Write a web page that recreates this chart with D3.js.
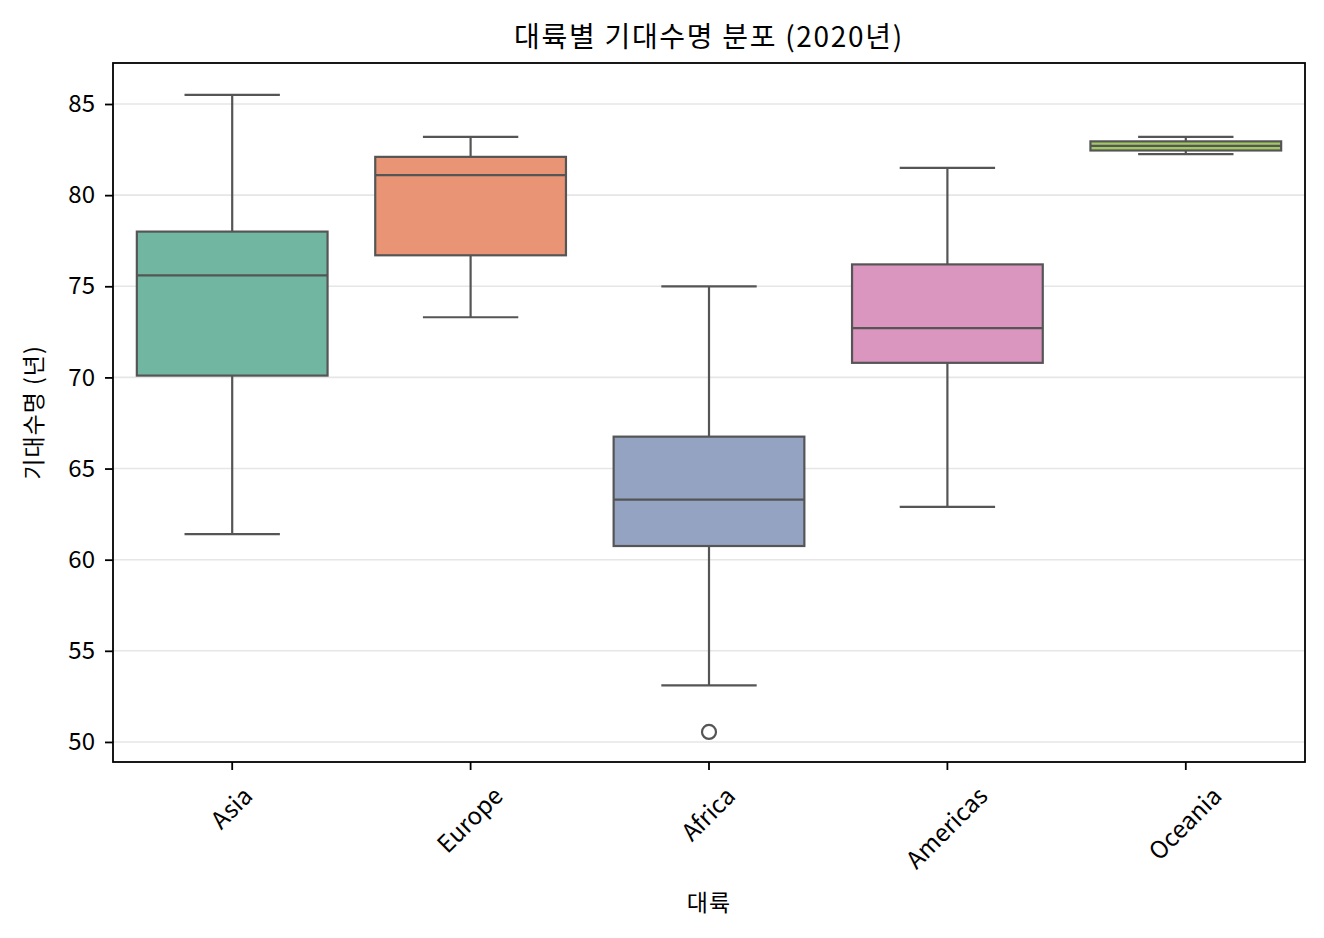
<!DOCTYPE html>
<html>
<head>
<meta charset="utf-8">
<script src="https://cdn.jsdelivr.net/npm/d3@7"></script>
<style>
  body { margin: 0; background: #fff; }
  text { font-family: "Noto Sans CJK KR", "Noto Sans", sans-serif; fill: #000; }
</style>
</head>
<body>
<svg id="chart" width="1324" height="938"></svg>
<script>
// 대륙별 기대수명 분포 (2020년)
const continents  = ['Asia', 'Europe', 'Africa', 'Americas', 'Oceania'];
const whiskerLow  = [61.4, 73.3, 53.1, 62.9, 82.25];
const q1          = [70.1, 76.7, 60.75, 70.8, 82.45];
const median      = [75.6, 81.1, 63.3, 72.7, 82.7];
const q3          = [78.0, 82.1, 66.75, 76.2, 82.95];
const whiskerHigh = [85.5, 83.2, 75.0, 81.5, 83.2];
const outliers    = [[], [], [50.55], [], []];
const colors      = ['#71b6a1', '#e99575', '#95a3c3', '#db96c0', '#a2c864'];
const yTicks      = [50, 55, 60, 65, 70, 75, 80, 85];

const margin = { top: 63, right: 19, bottom: 176, left: 113 };
const width  = 1324 - margin.left - margin.right;
const height = 938 - margin.top - margin.bottom;
const lineColor = '#555555';
const tickFont  = 24;

let svg = d3.select('#chart');
let g   = svg.append('g').attr('transform', `translate(${margin.left},${margin.top})`);

let x = d3.scaleBand()
    .domain(continents)
    .range([0, width])
    .paddingInner(0)
    .paddingOuter(0);

let y = d3.scaleLinear()
    .domain([48.9, 87.25])
    .range([height, 0]);

// grid
g.append('g')
    .selectAll('line')
    .data(yTicks)
    .join('line')
    .attr('x1', 0)
    .attr('x2', width)
    .attr('y1', d => y(d))
    .attr('y2', d => y(d))
    .attr('stroke', '#e6e6e6')
    .attr('stroke-width', 1.6);

let boxW = x.bandwidth() * 0.8;
let capW = boxW * 0.5;

let rows = continents.map((c, i) => ({
    c, i,
    lo: whiskerLow[i], q1: q1[i], med: median[i], q3: q3[i], hi: whiskerHigh[i],
    out: outliers[i]
}));

let box = g.append('g')
    .selectAll('g')
    .data(rows)
    .join('g')
    .attr('transform', d => `translate(${x(d.c) + x.bandwidth() / 2},0)`);

// whiskers
box.append('line')
    .attr('y1', d => y(d.q3)).attr('y2', d => y(d.hi))
    .attr('stroke', lineColor).attr('stroke-width', 2.2);
box.append('line')
    .attr('y1', d => y(d.q1)).attr('y2', d => y(d.lo))
    .attr('stroke', lineColor).attr('stroke-width', 2.2);
box.append('line')
    .attr('x1', -capW / 2).attr('x2', capW / 2)
    .attr('y1', d => y(d.hi)).attr('y2', d => y(d.hi))
    .attr('stroke', lineColor).attr('stroke-width', 2.2);
box.append('line')
    .attr('x1', -capW / 2).attr('x2', capW / 2)
    .attr('y1', d => y(d.lo)).attr('y2', d => y(d.lo))
    .attr('stroke', lineColor).attr('stroke-width', 2.2);

// boxes
box.append('rect')
    .attr('x', -boxW / 2)
    .attr('width', boxW)
    .attr('y', d => y(d.q3))
    .attr('height', d => y(d.q1) - y(d.q3))
    .attr('fill', d => colors[d.i])
    .attr('stroke', lineColor)
    .attr('stroke-width', 2.2);

// medians
box.append('line')
    .attr('x1', -boxW / 2).attr('x2', boxW / 2)
    .attr('y1', d => y(d.med)).attr('y2', d => y(d.med))
    .attr('stroke', lineColor).attr('stroke-width', 2.2);

// fliers
box.selectAll('circle')
    .data(d => d.out)
    .join('circle')
    .attr('cy', v => y(v))
    .attr('r', 7)
    .attr('fill', 'none')
    .attr('stroke', lineColor)
    .attr('stroke-width', 2.2);

// axes
let yAxis = g.append('g')
    .call(d3.axisLeft(y).tickValues(yTicks).tickSize(8).tickPadding(10));
let xAxis = g.append('g')
    .attr('transform', `translate(0,${height})`)
    .call(d3.axisBottom(x).tickSize(8).tickPadding(6));

[xAxis, yAxis].forEach(a => {
    a.select('.domain').remove();
    a.selectAll('line').attr('stroke', '#000').attr('stroke-width', 1.8);
    a.selectAll('text').style('font-size', tickFont + 'px').attr('fill', '#000');
});

xAxis.selectAll('text')
    .attr('y', 0)
    .attr('dy', null)
    .attr('text-anchor', 'middle')
    .attr('dominant-baseline', 'central')
    .attr('transform', function () {
        let w = this.getComputedTextLength();
        let h = tickFont * 1.2;
        let cy = 18 + (w + h) * Math.SQRT1_2 / 2;
        return `translate(-2,${cy}) rotate(-45)`;
    });

// frame
g.append('rect')
    .attr('width', width)
    .attr('height', height)
    .attr('fill', 'none')
    .attr('stroke', '#000')
    .attr('stroke-width', 1.8);

// labels
svg.append('text')
    .attr('x', margin.left + width / 2)
    .attr('y', 47)
    .attr('text-anchor', 'middle')
    .style('font-size', '28px')
    .style('letter-spacing', '1.7px')
    .text('대륙별 기대수명 분포 (2020년)');

svg.append('text')
    .attr('x', margin.left + width / 2)
    .attr('y', 911)
    .attr('text-anchor', 'middle')
    .style('font-size', '23px')
    .style('letter-spacing', '1px')
    .text('대륙');

svg.append('text')
    .attr('transform', `translate(42,${margin.top + height / 2}) rotate(-90)`)
    .attr('text-anchor', 'middle')
    .style('font-size', '23px')
    .style('letter-spacing', '1px')
    .text('기대수명 (년)');
</script>
</body>
</html>
